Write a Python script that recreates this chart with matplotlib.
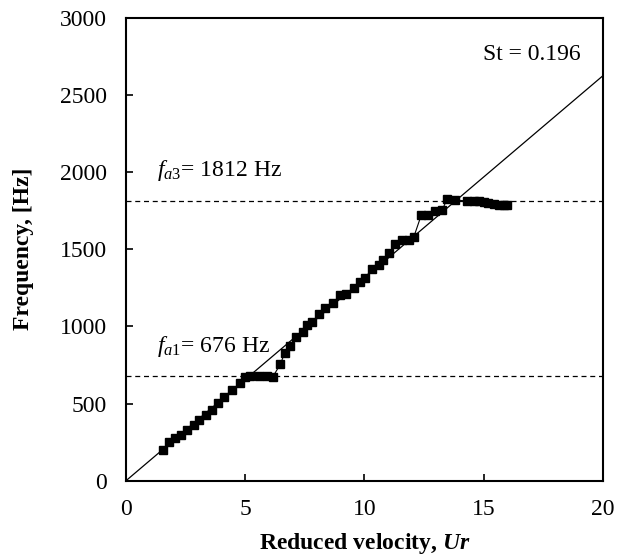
import matplotlib
matplotlib.use("Agg")
import matplotlib.pyplot as plt
import numpy as np

# ----------- DATA -----------
ur = [1.54, 1.82, 2.06, 2.30, 2.55, 2.83, 3.08, 3.35, 3.60, 3.84, 4.13, 4.44, 4.79,
      5.00, 5.21, 5.56, 5.91, 6.16, 6.47, 6.65, 6.86, 7.14, 7.42, 7.59, 7.80, 8.10,
      8.36, 8.68, 8.96, 9.24, 9.55, 9.80, 10.04, 10.32, 10.60, 10.80, 11.02, 11.30,
      11.58, 11.86, 12.07, 12.38, 12.66, 12.98, 13.26, 13.47, 13.78, 14.30, 14.60,
      14.80, 15.00, 15.20, 15.43, 15.64, 15.85, 15.97]
freq = [200, 254, 276, 297, 330, 362, 394, 427, 459, 502, 545, 588, 632,
        674, 676, 676, 676, 674, 754, 825, 875, 933, 965, 1008, 1030, 1078,
        1120, 1149, 1202, 1207, 1246, 1288, 1316, 1375, 1396, 1428, 1476, 1536,
        1558, 1558, 1579, 1719, 1719, 1751, 1752, 1827, 1821, 1812, 1812,
        1810, 1805, 1800, 1795, 1790, 1788, 1786]

strouhal_slope = 131.2   # Hz per unit Ur  (St = 0.196)
f_a1 = 676
f_a3 = 1812

# ----------- STYLE -----------
plt.rcParams["font.family"] = "Liberation Serif"
plt.rcParams["mathtext.fontset"] = "custom"
plt.rcParams["mathtext.rm"] = "Liberation Serif"
plt.rcParams["mathtext.it"] = "Liberation Serif:italic"
plt.rcParams["mathtext.bf"] = "Liberation Serif:bold"
plt.rcParams["mathtext.bfit"] = "Liberation Serif:bold:italic"

fig = plt.figure(figsize=(6.24, 5.57), dpi=100)
ax = fig.add_axes([0.202, 0.137, 0.764, 0.831])

# Strouhal line
x_line = np.array([0, 20])
ax.plot(x_line, strouhal_slope * x_line, color="black", lw=0.9)

# acoustic modes
ax.axhline(f_a1, color="black", lw=0.9, ls=(0, (4, 3)))
ax.axhline(f_a3, color="black", lw=0.9, ls=(0, (4, 3)))

# measured data
ax.plot(ur, freq, color="black", lw=0.8, marker="s", ms=5.2, mfc="black", mec="black")

ax.text(19.05, 2760, "St = 0.196", fontsize=17, ha="right", va="center")
ax.text(1.3, 1930, r"$f_{a3}$= 1812 Hz", fontsize=17, ha="left", va="bottom")
ax.text(1.3, 790, r"$f_{a1}$= 676 Hz", fontsize=17, ha="left", va="bottom")

ax.set_xlim(0, 20)
ax.set_ylim(0, 3000)
ax.set_xticks([0, 5, 10, 15, 20])
ax.set_yticks([0, 500, 1000, 1500, 2000, 2500, 3000])
ax.tick_params(direction="in", length=5, width=1.2, labelsize=17)
ax.tick_params(axis="x", pad=13)
ax.tick_params(axis="y", pad=14)
for s in ax.spines.values():
    s.set_linewidth(1.5)

ax.set_xlabel(r"Reduced velocity, $\mathbfit{Ur}$", fontsize=17, fontweight="bold", labelpad=8)
ax.set_ylabel("Frequency, [Hz]", fontsize=17, fontweight="bold", labelpad=18)

fig.savefig("out.png", dpi=100)
